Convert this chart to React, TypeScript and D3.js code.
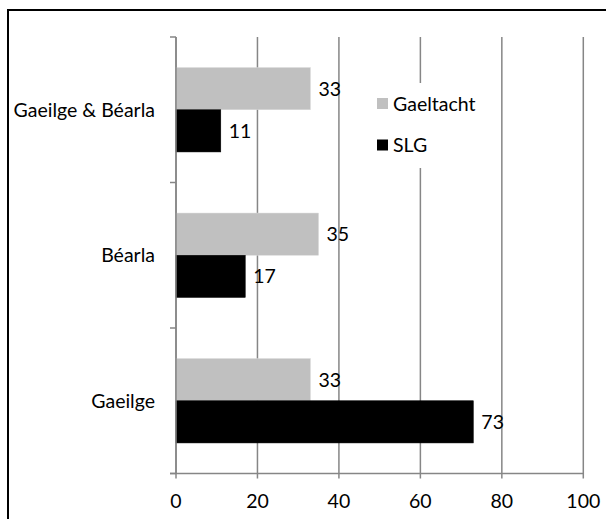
import React from "react";
import * as d3 from "d3";

const categories = ["Gaeilge & Béarla", "Béarla", "Gaeilge"];
const seriesNames = ["Gaeltacht", "SLG"];
const gaeltacht = [33, 35, 33];
const slg = [11, 17, 73];
const xTicks = [0, 20, 40, 60, 80, 100];

const W = 606;
const H = 519;
const FONT = "Lato, 'Open Sans', sans-serif";
const FS = 19.5;

export default function App() {
  const left = 176;
  const right = 583.3;
  const top = 37;
  const bottom = 473.5;
  const x = d3.scaleLinear().domain([0, 100]).range([left, right]);
  const y = d3.scaleBand<string>().domain(categories).range([top, bottom]).paddingInner(0.42).paddingOuter(0.21);
  const inner = d3.scaleBand<string>().domain(seriesNames).range([0, y.bandwidth()]);
  const colors = ["#c0c0c0", "#000000"];
  const series = [gaeltacht, slg];
  const step = (bottom - top) / categories.length;
  const gridColor = "#868686";

  return (
    <div style={{ position: "absolute", left: 0, top: 0 }}>
      <svg width={W} height={H} style={{ display: "block" }}>
        <rect x={0} y={0} width={W} height={H} fill="#fff" />
        <rect x={8} y={10} width={W + 10} height={H + 10} fill="none" stroke="#000" strokeWidth={2} />
        {xTicks.map((t) => (
          <g key={t}>
            <line x1={x(t)} x2={x(t)} y1={top} y2={bottom + 5} stroke={gridColor} strokeWidth={1.5} />
            <text x={x(t)} y={508} textAnchor="middle" fontFamily={FONT} fontSize={FS} fill="#000">
              {t}
            </text>
          </g>
        ))}
        <line x1={left - 6} x2={right} y1={bottom} y2={bottom} stroke={gridColor} strokeWidth={1.5} />
        {d3.range(categories.length + 1).map((i) => (
          <line key={i} x1={left - 6} x2={left} y1={top + i * step} y2={top + i * step} stroke={gridColor} strokeWidth={1.5} />
        ))}
        {categories.map((c, ci) => (
          <g key={c}>
            <text x={155} y={(y(c) as number) + y.bandwidth() / 2 + 7} textAnchor="end" fontFamily={FONT} fontSize={FS} fill="#000">
              {c}
            </text>
            {series.map((s, si) => {
              const by = (y(c) as number) + (inner(seriesNames[si]) as number);
              return (
                <g key={si}>
                  <rect x={x(0)} y={by} width={x(s[ci]) - x(0)} height={inner.bandwidth()} fill={colors[si]} stroke={si === 0 ? "#d9d9d9" : "#000"} strokeWidth={0.5} />
                  <text x={x(s[ci]) + 8} y={by + inner.bandwidth() / 2 + 7} fontFamily={FONT} fontSize={FS} fill="#000">
                    {s[ci]}
                  </text>
                </g>
              );
            })}
          </g>
        ))}
        <rect x={372} y={83} width={118} height={85} fill="#fff" />
        {seriesNames.map((n, i) => (
          <g key={n}>
            <rect x={377} y={98 + i * 41.5} width={11} height={11} fill={colors[i]} />
            <text x={393} y={110.5 + i * 41.5} fontFamily={FONT} fontSize={FS} fill="#000">
              {n}
            </text>
          </g>
        ))}
        <line x1={left} x2={left} y1={top} y2={bottom} stroke={gridColor} strokeWidth={1.5} />
      </svg>
    </div>
  );
}
